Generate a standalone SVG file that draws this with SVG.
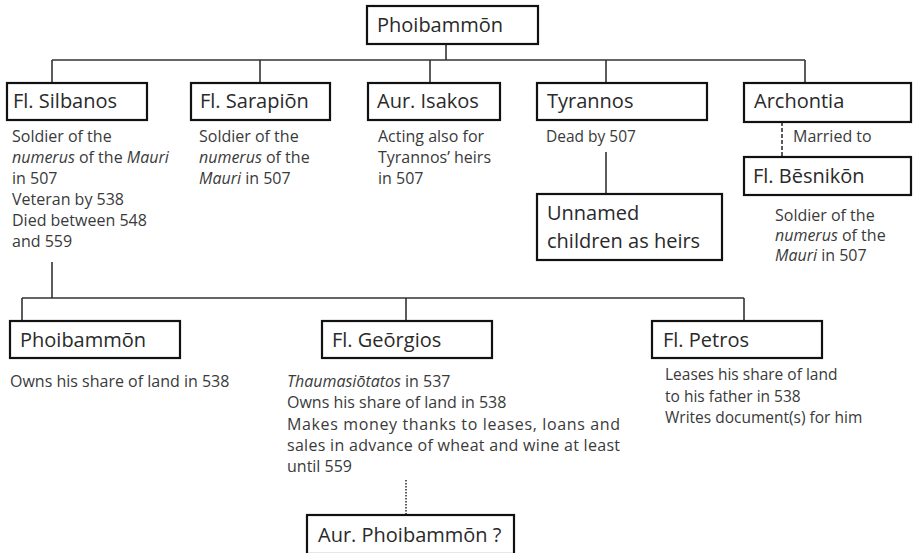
<svg xmlns="http://www.w3.org/2000/svg" width="913" height="553" viewBox="0 0 913 553">
<style>
  .box{fill:#fff;stroke:#111;stroke-width:2.2}
  .lbl{font-family:"Open Sans","Liberation Sans",sans-serif;font-size:20px;fill:#2a2a2a}
  .txt{font-family:"Open Sans","Liberation Sans",sans-serif;font-size:16px;fill:#3a3a3a}
  .sm{font-size:15.5px}
  .it{font-style:italic}
  .con{fill:none;stroke:#333;stroke-width:1.6}
  .dash{fill:none;stroke:#333;stroke-width:1.6;stroke-dasharray:4 2}
  .dot{fill:none;stroke:#333;stroke-width:1.6;stroke-dasharray:1.5 1.5}
</style>
<rect width="913" height="553" fill="#fff"/>
<g id="connectors">
  <path class="con" d="M446 44V60M52 60H805M52 60V83M260 60V83M430 60V83M606 60V83M805 60V83"/>
  <path class="dash" d="M782 122V157"/>
  <path class="con" d="M606 152V194"/>
  <path class="con" d="M52 262V298M22 298H744M22 298V321M406 298V321M744 298V321"/>
  <path class="dot" d="M406 480V515"/>
</g>
<g id="n-phoibammon-top">
  <rect class="box" x="367" y="6" width="171" height="38"/>
  <text class="lbl" x="377" y="32">Phoibammōn</text>
</g>
<g id="n-silbanos">
  <rect class="box" x="7" y="83" width="140" height="37"/>
  <text class="lbl" x="13" y="108">Fl. Silbanos</text>
  <text class="txt" x="12" y="142">Soldier of the</text>
  <text class="txt" x="12" y="163"><tspan class="it">numerus</tspan> of the <tspan class="it">Mauri</tspan></text>
  <text class="txt" x="12" y="184">in 507</text>
  <text class="txt" x="12" y="205">Veteran by 538</text>
  <text class="txt" x="12" y="226">Died between 548</text>
  <text class="txt" x="12" y="247">and 559</text>
</g>
<g id="n-sarapion">
  <rect class="box" x="191" y="83" width="139" height="37"/>
  <text class="lbl" x="200" y="108">Fl. Sarapiōn</text>
  <text class="txt" x="199" y="142">Soldier of the</text>
  <text class="txt" x="199" y="163"><tspan class="it">numerus</tspan> of the</text>
  <text class="txt" x="199" y="184"><tspan class="it">Mauri</tspan> in 507</text>
</g>
<g id="n-isakos">
  <rect class="box" x="368" y="83" width="132" height="37"/>
  <text class="lbl" x="377" y="108">Aur. Isakos</text>
  <text class="txt" x="378" y="142">Acting also for</text>
  <text class="txt" x="378" y="163">Tyrannos’ heirs</text>
  <text class="txt" x="378" y="184">in 507</text>
</g>
<g id="n-tyrannos">
  <rect class="box" x="537" y="83" width="170" height="37"/>
  <text class="lbl" x="547" y="108">Tyrannos</text>
  <text class="txt sm" x="546" y="142">Dead by 507</text>
</g>
<g id="n-unnamed">
  <rect class="box" x="537" y="194" width="185" height="66"/>
  <text class="lbl" x="547" y="220">Unnamed</text>
  <text class="lbl" x="547" y="248">children as heirs</text>
</g>
<g id="n-archontia">
  <rect class="box" x="744" y="83" width="167" height="39"/>
  <text class="lbl" x="754" y="108">Archontia</text>
  <text class="txt" x="793" y="142">Married to</text>
</g>
<g id="n-besnikon">
  <rect class="box" x="744" y="157" width="167" height="38"/>
  <text class="lbl" x="753" y="183">Fl. Bēsnikōn</text>
  <text class="txt" x="775" y="221">Soldier of the</text>
  <text class="txt" x="775" y="241"><tspan class="it">numerus</tspan> of the</text>
  <text class="txt" x="775" y="261"><tspan class="it">Mauri</tspan> in 507</text>
</g>
<g id="n-phoibammon-son">
  <rect class="box" x="10" y="321" width="170" height="37"/>
  <text class="lbl" x="20" y="347">Phoibammōn</text>
  <text class="txt" x="10" y="387">Owns his share of land  in 538</text>
</g>
<g id="n-georgios">
  <rect class="box" x="322" y="321" width="170" height="37"/>
  <text class="lbl" x="332" y="347">Fl. Geōrgios</text>
  <text class="txt" x="287" y="387"><tspan class="it">Thaumasiōtatos</tspan> in 537</text>
  <text class="txt" x="287" y="408">Owns his share of land in 538</text>
  <text class="txt" x="287" y="430" textLength="333" lengthAdjust="spacing">Makes money thanks to leases, loans and</text>
  <text class="txt" x="287" y="451" textLength="333" lengthAdjust="spacing">sales in advance of wheat and wine at least</text>
  <text class="txt" x="287" y="472">until 559</text>
</g>
<g id="n-petros">
  <rect class="box" x="652" y="321" width="170" height="37"/>
  <text class="lbl" x="663" y="347">Fl. Petros</text>
  <text class="txt sm" x="665" y="380">Leases his share of land</text>
  <text class="txt sm" x="665" y="402">to his father in 538</text>
  <text class="txt sm" x="665" y="423">Writes document(s) for him</text>
</g>
<g id="n-aur-phoibammon">
  <rect class="box" x="307" y="515" width="207" height="39"/>
  <text class="lbl" x="318" y="542">Aur. Phoibammōn ?</text>
</g>
</svg>
